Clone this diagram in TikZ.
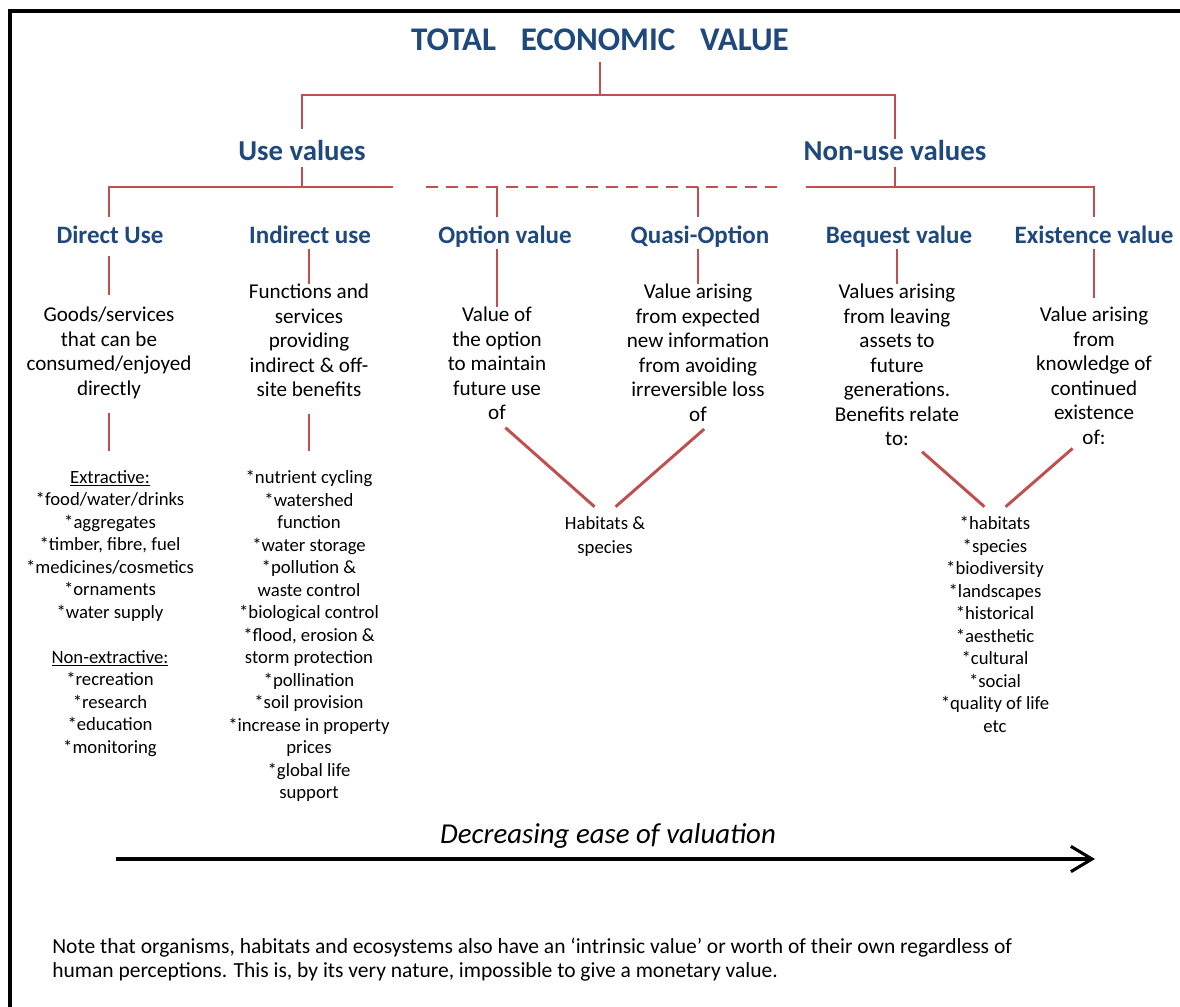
\documentclass[tikz,border=0pt]{standalone}
\usepackage{fontspec}
\setmainfont{Carlito}
\usepackage{xcolor}
\usetikzlibrary{arrows.meta}

\definecolor{tevblue}{RGB}{31,73,125}
\definecolor{tevred}{RGB}{192,80,77}

\begin{document}
\begin{tikzpicture}[
    x=0.025cm, y=-0.025cm,
    headline/.style={text=tevblue, font=\bfseries\fontsize{23.5}{28}\selectfont, inner sep=0, anchor=base, text depth=0pt},
    group/.style={text=tevblue, font=\bfseries\fontsize{20.5}{24}\selectfont, inner sep=0, anchor=base, text height=15pt, text depth=5pt},
    kind/.style={text=tevblue, font=\bfseries\fontsize{17.8}{21}\selectfont, inner sep=0, anchor=base, text height=13pt, text depth=4.2pt},
    desc/.style={align=center, font=\fontsize{15}{17.4}\selectfont, inner sep=0, anchor=north},
    items/.style={align=center, font=\fontsize{13.3}{16}\selectfont, inner sep=0, anchor=north},
    link/.style={draw=tevred, line width=2.1pt},
    optional/.style={link, dash pattern=on 8.5pt off 5.7pt},
    arr/.style={-{Straight Barb[length=15pt, width=18pt]}, line width=2.2pt}
]
\useasboundingbox (0,0) rectangle (1180,1007);

% Frame
\draw[line width=2.8pt] (10,1015) -- (10,11.3) -- (1190,11.3);

% Top of the tree
\node[headline] (tev) at (600,50) {TOTAL\hspace{0.75em}ECONOMIC\hspace{0.75em}VALUE};
\node[group] (use) at (302,160) {Use values};
\node[group] (nonuse) at (895,160) {Non-use values};

% Value types
\node[kind] (direct) at (110,243) {Direct Use};
\node[kind] (indirect) at (310,243) {Indirect use};
\node[kind] (option) at (505,243) {Option value};
\node[kind] (quasi) at (700,243) {Quasi-Option};
\node[kind] (bequest) at (899,243) {Bequest value};
\node[kind] (exist) at (1094,243) {Existence value};

% Descriptions
\node[desc] (directdesc) at (109,307) {Goods/services\\that can be\\consumed/enjoyed\\directly};
\node[desc] (indirectdesc) at (309,284) {Functions and\\services\\providing\\indirect \& off-\\site benefits};
\node[desc] (optdesc) at (497,307) {Value of\\the option\\to maintain\\future use\\of};
\node[desc] (quasidesc) at (698,284) {Value arising\\from expected\\new information\\from avoiding\\irreversible loss\\of};
\node[desc] (bequestdesc) at (897,284) {Values arising\\from leaving\\assets to\\future\\generations.\\Benefits relate\\to:};
\node[desc] (existdesc) at (1094,307) {Value arising\\from\\knowledge of\\continued\\existence\\of:};

% What the values are drawn from
\node[items] (directlist) at (110,470) {\underline{Extractive:}\\{*}food/water/drinks\\{*}aggregates\\{*}timber, fibre, fuel\\{*}medicines/cosmetics\\{*}ornaments\\{*}water supply\\[16pt]\underline{Non-extractive:}\\{*}recreation\\{*}research\\{*}education\\{*}monitoring};
\node[items] (indirectlist) at (309,470) {{*}nutrient cycling\\{*}watershed\\function\\{*}water storage\\{*}pollution \&\\waste control\\{*}biological control\\{*}flood, erosion \&\\storm protection\\{*}pollination\\{*}soil provision\\{*}increase in property\\prices\\{*}global life\\support};
\node[items, font=\fontsize{13.3}{17}\selectfont] (habitats) at (605,516) {Habitats \&\\species};
\node[items] (existlist) at (995,516) {{*}habitats\\{*}species\\{*}biodiversity\\{*}landscapes\\{*}historical\\{*}aesthetic\\{*}cultural\\{*}social\\{*}quality of life\\etc};

% Bars
\coordinate (topbar) at (600,95);
\coordinate (usebar) at (302,187);
\coordinate (usebarR) at (393,187);
\coordinate (dashL) at (426,187);
\coordinate (dashR) at (785,187);
\coordinate (nonbar) at (895,187);
\coordinate (nonbarL) at (806,187);

\draw[link, shorten <=8.5pt] (tev) -- (topbar);
\draw[link, shorten <=7pt] (use) |- (topbar) -| (nonuse);
\draw[link] (use) -- (usebar);
\draw[link, shorten <=5pt] (directdesc |- direct.north) |- (usebarR);
\draw[optional] (dashL) -- (dashR);
\draw[link, shorten >=5pt] (optdesc |- dashL) -- (optdesc |- option.north);
\draw[link, shorten >=5pt] (quasidesc |- dashL) -- (quasidesc |- quasi.north);
\draw[link] (nonuse) -- (nonbar);
\draw[link, shorten >=5pt] (nonbarL) -| (existdesc |- exist.north);

% Label to description
\draw[link, shorten <=5pt, shorten >=8.5pt] (directdesc |- direct.south) -- (directdesc);
\draw[link] (indirectdesc |- indirect.south) -- (indirectdesc);
\draw[link] (optdesc |- option.south) -- (optdesc);
\draw[link] (quasidesc |- quasi.south) -- (quasidesc);
\draw[link] (bequestdesc |- bequest.south) -- (bequestdesc);
\draw[link, shorten >=6.4pt] (existdesc |- exist.south) -- (existdesc);

% Description to list
\draw[link, shorten <=10pt, shorten >=13.5pt] (directdesc.south) -- (directdesc.south |- directlist.north);
\draw[link, shorten <=12pt, shorten >=13.5pt] (indirectdesc.south) -- (indirectdesc.south |- indirectlist.north);
\draw[link, shorten <=8pt, shorten >=10pt] (optdesc.south) -- (habitats.north);
\draw[link, shorten <=8pt, shorten >=10pt] (quasidesc.282) -- (habitats.north);
\draw[link, shorten <=6pt, shorten >=10pt] (bequestdesc.283) -- (existlist.north);
\draw[link, shorten <=4pt, shorten >=10pt] (existdesc.256) -- (existlist.north);

% Valuation arrow
\node[font=\itshape\fontsize{20.5}{24}\selectfont, inner sep=0] (ease) at (608,836) {Decreasing ease of valuation};
\coordinate (easeL) at (116,859);
\coordinate (easeR) at (1095,859);
\draw[arr] (easeL) -- (easeR);

% Note
\node[anchor=north west, align=left, inner sep=0, font=\fontsize{15.3}{17}\selectfont] (note) at (52,938) {Note that organisms, habitats and ecosystems also have an ‘intrinsic value’ or worth of their own regardless of\\human perceptions. This is, by its very nature, impossible to give a monetary value.};
\end{tikzpicture}
\end{document}
